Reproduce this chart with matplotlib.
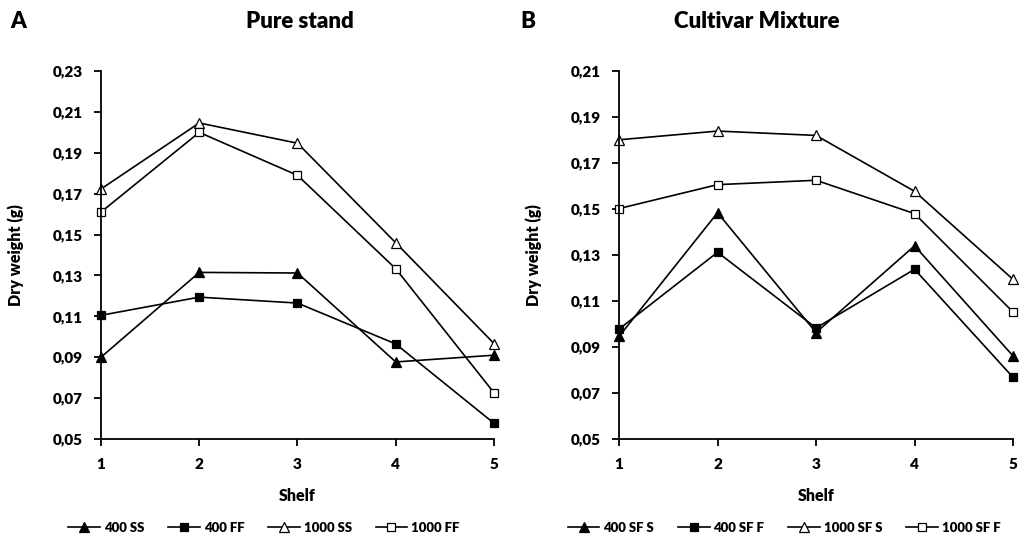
import matplotlib
matplotlib.use("Agg")
import matplotlib.pyplot as plt

plt.rcParams['font.family'] = ['Lato', 'DejaVu Sans']

shelf = [1, 2, 3, 4, 5]

# panel A - pure stand
pure_labels = ["400 SS", "400 FF", "1000 SS", "1000 FF"]
pure_400_ss = [0.090, 0.1315, 0.1312, 0.0877, 0.0910]
pure_400_ff = [0.1105, 0.1194, 0.1165, 0.0965, 0.0577]
pure_1000_ss = [0.1723, 0.2046, 0.1947, 0.1460, 0.0967]
pure_1000_ff = [0.1610, 0.2000, 0.1790, 0.1333, 0.0726]
pure_yticks = [0.05, 0.07, 0.09, 0.11, 0.13, 0.15, 0.17, 0.19, 0.21, 0.23]

# panel B - cultivar mixture
mix_labels = ["400 SF S", "400 SF F", "1000 SF S", "1000 SF F"]
mix_400_s = [0.0946, 0.1484, 0.0963, 0.1340, 0.0861]
mix_400_f = [0.0978, 0.1312, 0.0983, 0.1238, 0.0768]
mix_1000_s = [0.1801, 0.1839, 0.1820, 0.1577, 0.1194]
mix_1000_f = [0.1502, 0.1606, 0.1625, 0.1480, 0.1052]
mix_yticks = [0.05, 0.07, 0.09, 0.11, 0.13, 0.15, 0.17, 0.19, 0.21]

styles = [
    dict(marker='^', markerfacecolor='black', markersize=7),
    dict(marker='s', markerfacecolor='black', markersize=6),
    dict(marker='^', markerfacecolor='white', markersize=7),
    dict(marker='s', markerfacecolor='white', markersize=6),
]


def draw_panel(ax, series, labels, yticks):
    handles = []
    for ys, lab, st in zip(series, labels, styles):
        h, = ax.plot(shelf, ys, color='black', lw=1.2, markeredgecolor='black',
                     markeredgewidth=0.9, clip_on=False, label=lab, **st)
        handles.append(h)
    ax.set_xlim(1, 5)
    ax.set_ylim(yticks[0], yticks[-1])
    ax.set_xticks(shelf)
    ax.set_xticklabels([str(s) for s in shelf])
    ax.set_yticks(yticks)
    ax.set_yticklabels([("%.2f" % t).replace('.', ',') for t in yticks])
    ax.spines['top'].set_visible(False)
    ax.spines['right'].set_visible(False)
    for sp in ['left', 'bottom']:
        ax.spines[sp].set_linewidth(1.3)
    ax.tick_params(direction='out', length=5, width=1.3, labelsize=11)
    ax.tick_params(axis='x', pad=9)
    ax.tick_params(axis='y', pad=8)
    for lbl in ax.get_xticklabels() + ax.get_yticklabels():
        lbl.set_fontweight('heavy')
    ax.set_xlabel("Shelf", fontsize=11.5, fontweight='heavy')
    ax.set_ylabel("Dry weight (g)", fontsize=11.5, fontweight='heavy')
    ax.xaxis.set_label_coords(0.5, -0.132)
    ax.yaxis.set_label_coords(-0.195, 0.5)
    return handles


fig = plt.figure(figsize=(10.2, 5.55), dpi=100)
ax1 = fig.add_axes([0.099, 0.209, 0.3853, 0.663])
ax2 = fig.add_axes([0.6069, 0.209, 0.3863, 0.663])

h1 = draw_panel(ax1, [pure_400_ss, pure_400_ff, pure_1000_ss, pure_1000_ff], pure_labels, pure_yticks)
h2 = draw_panel(ax2, [mix_400_s, mix_400_f, mix_1000_s, mix_1000_f], mix_labels, mix_yticks)

title_kw = dict(ha='center', va='center', fontsize=16, fontweight='heavy')
fig.text(300 / 1020, 1 - 21 / 555, "Pure stand", **title_kw)
fig.text(757 / 1020, 1 - 21 / 555, "Cultivar Mixture", **title_kw)
fig.text(18 / 1020, 1 - 21 / 555, "A", **title_kw)
fig.text(528 / 1020, 1 - 21 / 555, "B", **title_kw)

leg_kw = dict(ncol=4, frameon=False, handlelength=2.4, handletextpad=0.3, columnspacing=1.8,
              prop={'weight': 'heavy', 'size': 9.5})
fig.legend(handles=h1, loc='center', bbox_to_anchor=(264 / 1020, 1 - 528 / 555), **leg_kw)
fig.legend(handles=h2, loc='center', bbox_to_anchor=(784 / 1020, 1 - 528 / 555), **leg_kw)

fig.savefig("out.png", dpi=100)
